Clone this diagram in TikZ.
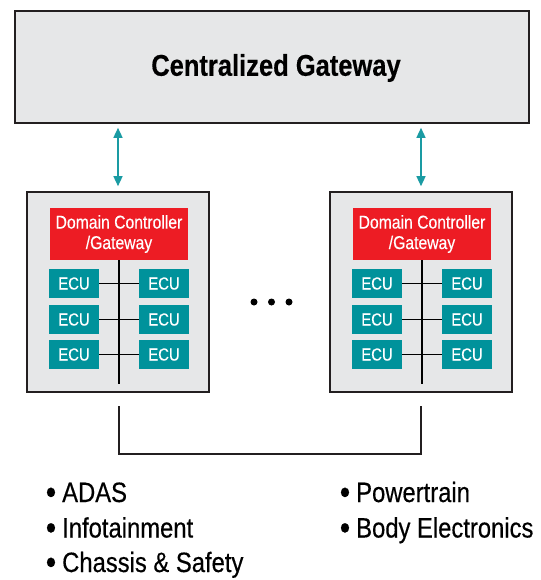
\documentclass[tikz,border=0pt]{standalone}
\usepackage{fontspec}
\setmainfont{Liberation Sans}[FakeStretch=0.85, FakeBold=0.35]
\usetikzlibrary{arrows.meta}
\definecolor{boxgray}{HTML}{E6E7E8}
\definecolor{dcred}{HTML}{ED1C24}
\definecolor{ecuteal}{HTML}{00929B}
\definecolor{arrteal}{HTML}{1A9BA3}
\definecolor{edge}{HTML}{231F20}
\newcommand\bul{\llap{\smash{\raisebox{-2pt}{\scalebox{1.25}{•}}}\hspace{6pt}}}
\tikzset{
  panel/.style={draw=edge, fill=boxgray, line width=1.6pt, inner sep=0pt},
  dcbox/.style={fill=dcred, text=white, inner sep=0pt, align=center,
    font=\fontsize{18.5}{20.5}\selectfont},
  ecubox/.style={fill=ecuteal, text=white, inner sep=0pt,
    minimum width=50pt, minimum height=29pt, font=\fontsize{17.5}{19}\selectfont},
  bus/.style={draw=black, line width=1.6pt},
  link/.style={draw=arrteal, line width=1.4pt, {Triangle[length=10pt,width=9pt]}-{Triangle[length=10pt,width=9pt]}},
  bracket/.style={draw=edge, line width=1.3pt},
  item/.style={anchor=base west, inner sep=0pt, font=\fontsize{28}{32}\selectfont},
  dot/.style={circle, fill=black, inner sep=0pt, minimum size=7pt}
}
\begin{document}
\begin{tikzpicture}[x=1pt,y=-1pt]
\useasboundingbox (0,0) rectangle (540,580);
% central gateway
\node[panel, minimum width=514pt, minimum height=112pt] (cg) at (272,67) {};
\node[font=\fontsize{30}{34}\selectfont\bfseries] (cgt) at (276,68) {Centralized Gateway};
% domain boxes
\foreach \n/\dx in {L/0,R/303} {
  \node[panel, minimum width=182pt, minimum height=200pt] (dom\n) at (118+\dx,292) {};
  \node[dcbox, minimum width=138pt, minimum height=52pt] (dc\n) at (119+\dx,234) {Domain Controller\\/Gateway};
  \node[ecubox] (e\n a1) at (74+\dx,283.5) {ECU};
  \node[ecubox] (e\n b1) at (164+\dx,283.5) {ECU};
  \node[ecubox] (e\n a2) at (74+\dx,319.5) {ECU};
  \node[ecubox] (e\n b2) at (164+\dx,319.5) {ECU};
  \node[ecubox] (e\n a3) at (74+\dx,354.5) {ECU};
  \node[ecubox] (e\n b3) at (164+\dx,354.5) {ECU};
  \coordinate (bus\n) at (119+\dx,384);
  \draw[bus] (dc\n.south) -- (bus\n);
  \draw[bus] (e\n a1.east) -- (e\n b1.west);
  \draw[bus] (e\n a2.east) -- (e\n b2.west);
  \draw[bus] (e\n a3.east) -- (e\n b3.west);
}
% links to central gateway
\draw[link] ([yshift=-4pt]cg.south -| domL.north) -- ([yshift=5pt]domL.north);
\draw[link] ([yshift=-4pt]cg.south -| domR.north) -- ([yshift=5pt]domR.north);
% ellipsis
\node[dot] (d1) at (254,302) {};
\node[dot] (d2) at (271.5,302) {};
\node[dot] (d3) at (289,302) {};
% bracket
\coordinate (bl) at (119,406);
\coordinate (br) at (421,406);
\draw[bracket] (bl) -- (119,454) -- (421,454) -- (br);
% lists
\node[item] (i1) at (62,502) {\bul ADAS};
\node[item] (i2) at (62,537.5) {\bul Infotainment};
\node[item] (i3) at (62,572) {\bul Chassis \& Safety};
\node[item] (i4) at (356,502) {\bul Powertrain};
\node[item] (i5) at (356,537.5) {\bul Body Electronics};
\end{tikzpicture}
\end{document}
